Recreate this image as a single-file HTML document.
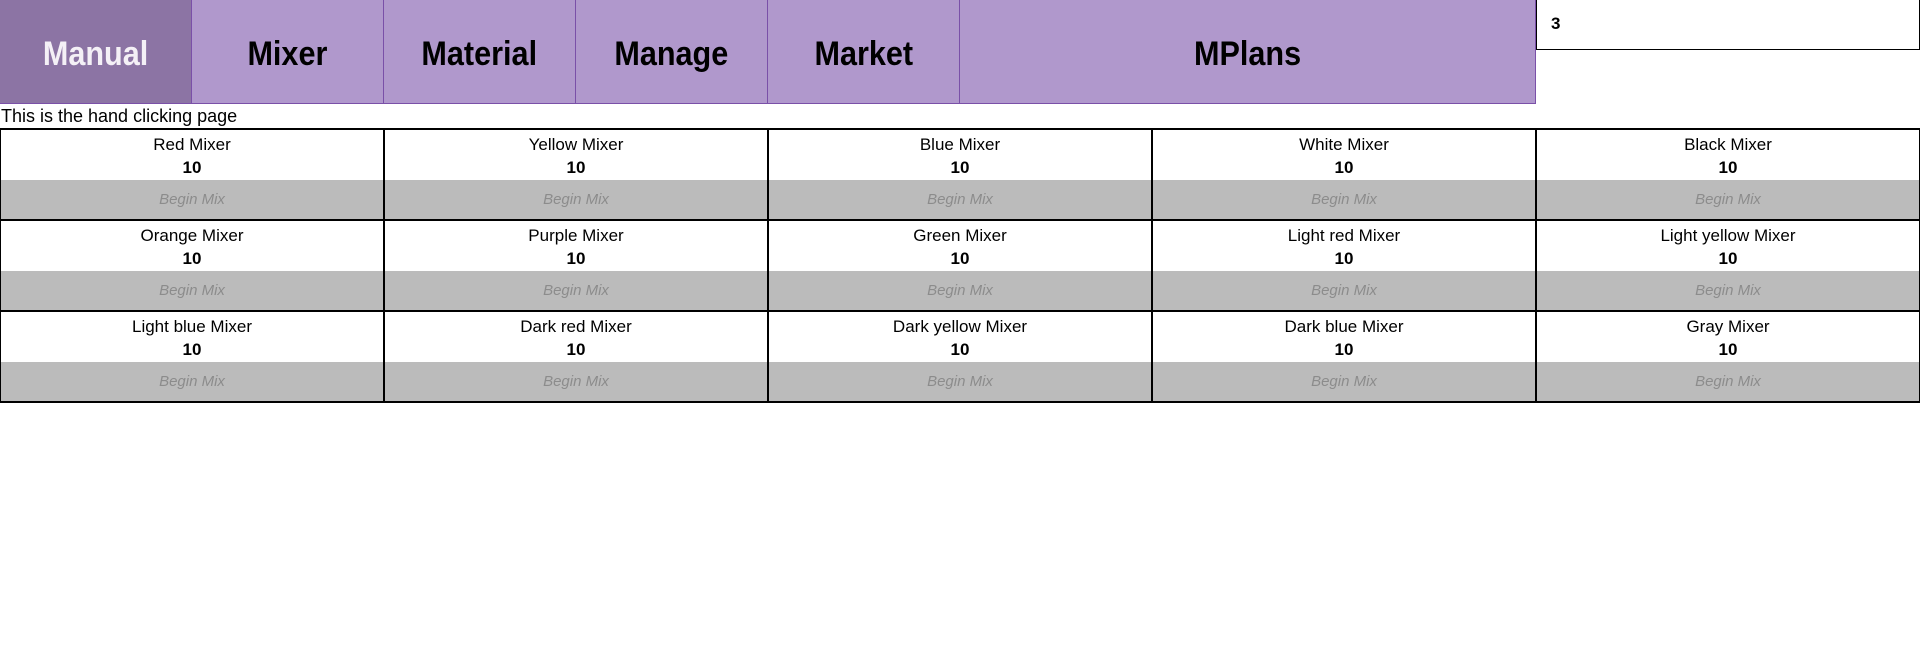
<!DOCTYPE html>
<html><head><meta charset="utf-8"><style>
*{box-sizing:border-box;margin:0;padding:0}
body{width:1920px;height:672px;background:#fff;font-family:"Liberation Sans Narrow","Liberation Sans",sans-serif;position:relative;overflow:hidden}
#tabs{position:absolute;left:0;top:0;width:1536px;height:104px;display:flex;border-bottom:1px solid #7a50a8;background:#b098cc}
.tab{width:192px;height:103px;border-right:1px solid #7a50a8;display:flex;align-items:center;justify-content:center;font-size:34px;font-weight:bold;color:#000;padding-top:6px}
.tab span{display:inline-block;transform:scaleX(0.9)}
.tab.active{background:#8c74a4;color:#f4f0f6}
.tab.wide{flex:1;border-right:1px solid #7a50a8}
#count{position:absolute;left:1536px;top:0;width:384px;height:50px;border:1px solid #000;border-top:none;font-size:17px;font-weight:bold;padding:14px 0 0 14px}
#info{position:absolute;left:1px;top:106px;font-size:18px}
#grid{position:absolute;left:0;top:128px;width:1920px;display:grid;grid-template-columns:repeat(5,384px);border-top:2px solid #000}
.cell{height:91px;border-left:1px solid #000;border-right:1px solid #000;border-bottom:2px solid #000;display:flex;flex-direction:column;align-items:center}
.nm{height:25px;font-size:17px;padding-top:5px}
.val{height:25px;font-size:17px;font-weight:bold;padding-top:3px}
.btn{width:100%;flex:1;background:#bbb;color:#8c8c8c;font-size:15px;display:flex;align-items:center;justify-content:center;font-style:italic}
</style></head><body>
<div id="tabs">
<div class="tab active"><span>Manual</span></div>
<div class="tab"><span>Mixer</span></div>
<div class="tab"><span>Material</span></div>
<div class="tab"><span>Manage</span></div>
<div class="tab"><span>Market</span></div>
<div class="tab wide"><span>MPlans</span></div>
</div>
<div id="count">3</div>
<div id="info">This is the hand clicking page</div>
<div id="grid"></div>
<script>
const names=["Red","Yellow","Blue","White","Black","Orange","Purple","Green","Light red","Light yellow","Light blue","Dark red","Dark yellow","Dark blue","Gray"];
const values=[10,10,10,10,10,10,10,10,10,10,10,10,10,10,10];
const g=document.getElementById('grid');
names.forEach((n,i)=>{
const c=document.createElement('div');c.className='cell';


const a=document.createElement('div');a.className='nm';a.textContent=n+' Mixer';


const v=document.createElement('div');v.className='val';v.textContent=values[i];


const b=document.createElement('div');b.className='btn';b.textContent='Begin Mix';


c.append(a,v,b);g.appendChild(c);
});
</script>
</body></html>
